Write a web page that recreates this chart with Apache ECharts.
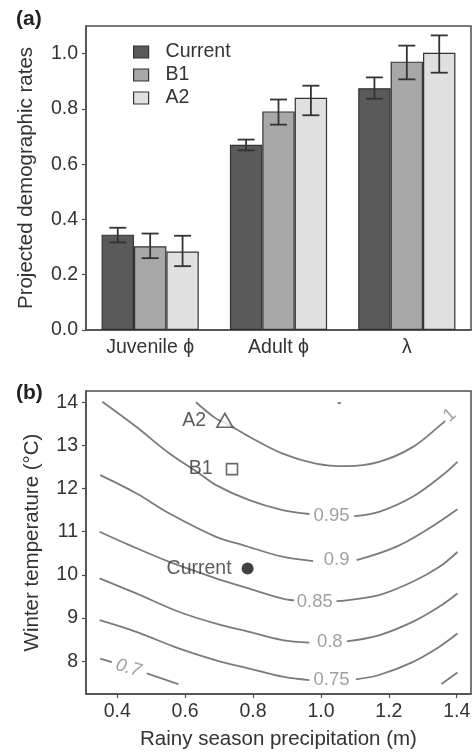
<!DOCTYPE html>
<html><head><meta charset="utf-8">
<script src="https://cdn.jsdelivr.net/npm/echarts@6/dist/echarts.min.js"></script>
<style>html,body{margin:0;padding:0;background:#fff}#c{width:474px;height:754px}</style>
</head><body><div id="c"></div>
<script>
// ---------- Panel (a): projected demographic rates ----------
const categories = ['Juvenile ϕ', 'Adult ϕ', 'λ'];
const scenarioNames = ['Current', 'B1', 'A2'];
const currentRates = [0.345, 0.670, 0.875];
const b1Rates      = [0.303, 0.791, 0.971];
const a2Rates      = [0.284, 0.840, 1.003];
const currentLow   = [0.317, 0.650, 0.837];
const currentHigh  = [0.370, 0.689, 0.914];
const b1Low        = [0.260, 0.743, 0.907];
const b1High       = [0.349, 0.834, 1.029];
const a2Low        = [0.231, 0.777, 0.931];
const a2High       = [0.341, 0.884, 1.066];
const rateTicks    = [0, 0.2, 0.4, 0.6, 0.8, 1.0];

// ---------- Panel (b): contours of lambda ----------
const precipTicks = [0.4, 0.6, 0.8, 1.0, 1.2, 1.4];
const tempTicks   = [8, 9, 10, 11, 12, 13, 14];
// null marks a break in the line (label gap)
const contour100 = [[0.632,14.00],[0.691,13.62],[0.721,13.51],[0.789,13.20],[0.887,12.81],[0.985,12.58],[1.074,12.52],[1.171,12.62],[1.270,12.96],[1.358,13.51],[1.366,13.57]];
const contour105 = [[1.049,13.98],[1.059,13.98]];
const contour095 = [[0.356,14.01],[0.456,13.43],[0.554,12.81],[0.642,12.35],[0.691,12.08],[0.789,11.73],[0.887,11.50],[0.966,11.41], null, [1.098,11.36],[1.171,11.46],[1.270,11.81],[1.358,12.31],[1.402,12.62]];
const contour090 = [[0.350,12.31],[0.456,11.89],[0.554,11.42],[0.691,10.88],[0.770,10.69],[0.887,10.42],[0.977,10.32], null, [1.105,10.34],[1.221,10.65],[1.319,11.08],[1.402,11.52]];
const contour085 = [[0.348,11.00],[0.436,10.69],[0.554,10.30],[0.691,9.92],[0.789,9.68],[0.887,9.45],[0.921,9.41], null, [1.046,9.39],[1.074,9.41],[1.171,9.53],[1.270,9.84],[1.348,10.18],[1.402,10.53]];
const contour080 = [[0.348,9.92],[0.456,9.57],[0.583,9.14],[0.691,8.87],[0.789,8.68],[0.887,8.49],[0.966,8.43], null, [1.076,8.46],[1.171,8.60],[1.270,8.91],[1.348,9.26],[1.402,9.57]];
const contour075 = [[0.348,8.95],[0.456,8.68],[0.583,8.29],[0.691,8.02],[0.789,7.83],[0.887,7.64],[0.966,7.56], null, [1.103,7.58],[1.171,7.68],[1.270,7.98],[1.348,8.33],[1.402,8.64]];
const contour070 = [[0.350,8.06],[0.384,7.98], null, [0.487,7.72],[0.580,7.47], null, [1.355,7.47],[1.402,7.74]];
const contourLabelTexts = ['1', '0.95', '0.9', '0.85', '0.8', '0.75', '0.7'];
const contourLabelX     = [1.380, 1.031, 1.046, 0.982, 1.026, 1.031, 0.433];
const contourLabelY     = [13.70, 11.36, 10.34, 9.37, 8.45, 7.56, 7.84];
const scenarioPrecip = [0.784, 0.738, 0.717];
const scenarioTemp   = [10.15, 12.45, 13.58];

// ---------- styles ----------
const FONT = "'Liberation Sans', Arial, 'DejaVu Sans', sans-serif";
const TXT = '#333';
const FRAME = '#4d4d4d';
const BAR_W = 32.4;
const barColors = ['#5a5a5a', '#a8a8a8', '#e0e0e0'];
const contourColor = '#7b7b7b';
const contourLabelStyle = {
  '1':   {rotate: 42, fontStyle: 'normal'},
  '0.7': {rotate: -16, fontStyle: 'italic'}
};

const rates = [currentRates, b1Rates, a2Rates];
const lows = [currentLow, b1Low, a2Low];
const highs = [currentHigh, b1High, a2High];

const series = [];
scenarioNames.forEach((nm, s) => {
  series.push({
    name: nm, type: 'bar', xAxisIndex: 0, yAxisIndex: 0,
    data: rates[s], barWidth: BAR_W, barGap: '0%',
    itemStyle: {color: barColors[s], borderColor: '#333', borderWidth: 1.2},
    z: 2
  });
});
scenarioNames.forEach((nm, s) => {
  series.push({
    name: 'err-' + nm, type: 'custom', xAxisIndex: 0, yAxisIndex: 0, z: 5,
    data: categories.map((c, i) => [i, lows[s][i], highs[s][i]]),
    renderItem: function (params, api) {
      const lo = api.coord([api.value(0), api.value(1)]);
      const hi = api.coord([api.value(0), api.value(2)]);
      const x = lo[0] + (s - 1) * BAR_W;
      const cap = 8.5;
      const st = {stroke: '#333', lineWidth: 1.8};
      return {type: 'group', children: [
        {type: 'line', shape: {x1: x, y1: lo[1], x2: x, y2: hi[1]}, style: st},
        {type: 'line', shape: {x1: x - cap, y1: lo[1], x2: x + cap, y2: lo[1]}, style: st},
        {type: 'line', shape: {x1: x - cap, y1: hi[1], x2: x + cap, y2: hi[1]}, style: st}
      ]};
    }
  });
});

function splitSegments(arr) {
  const segs = [[]];
  arr.forEach(p => { if (p === null) segs.push([]); else segs[segs.length - 1].push(p); });
  return segs.filter(s => s.length > 1);
}
[contour100, contour105, contour095, contour090, contour085, contour080, contour075, contour070].forEach(c => {
  splitSegments(c).forEach(seg => {
    series.push({
      type: 'line', xAxisIndex: 1, yAxisIndex: 1, data: seg,
      smooth: 0.35, symbol: 'none', silent: true, z: 2,
      lineStyle: {color: contourColor, width: 1.8}
    });
  });
});

series.push({
  type: 'scatter', xAxisIndex: 1, yAxisIndex: 1, symbolSize: 1, silent: true, z: 3,
  itemStyle: {color: 'rgba(0,0,0,0)'},
  data: contourLabelTexts.map((t, i) => {
    const st = contourLabelStyle[t] || {rotate: 0, fontStyle: 'normal'};
    return {name: t, value: [contourLabelX[i], contourLabelY[i]],
      label: {rotate: st.rotate, fontStyle: st.fontStyle}};
  }),
  label: {show: true, position: 'inside', formatter: p => p.name,
    color: '#888', fontSize: 18.5, fontFamily: FONT}
});

const markerSymbols = ['circle', 'rect', 'triangle'];
const markerSizes = [12, 11, [16, 14]];
const markerDist = [10, 13, 10];
scenarioNames.forEach((nm, s) => {
  series.push({
    type: 'scatter', xAxisIndex: 1, yAxisIndex: 1, z: 6, silent: true,
    symbol: markerSymbols[s], symbolSize: markerSizes[s],
    itemStyle: s === 0 ? {color: '#111'} : {color: '#fff', borderColor: '#444', borderWidth: 1.6},
    data: [{name: nm, value: [scenarioPrecip[s], scenarioTemp[s]]}],
    label: {show: true, position: 'left', distance: markerDist[s], formatter: p => p.name,
      color: TXT, fontSize: 19.5, fontFamily: FONT}
  });
});

const axisLabelBase = {color: TXT, fontSize: 19.5, fontFamily: FONT, margin: 8};
const tickBase = {show: true, inside: false, length: 4, lineStyle: {color: FRAME, width: 1.2}};

const option = {
  backgroundColor: '#fff',
  animation: false,
  textStyle: {fontFamily: FONT},
  title: [
    {text: '(a)', left: 16, top: 9, padding: 0, textStyle: {fontSize: 21, fontWeight: 'bold', color: '#222', fontFamily: FONT}},
    {text: '(b)', left: 16, top: 383, padding: 0, textStyle: {fontSize: 21, fontWeight: 'bold', color: '#222', fontFamily: FONT}}
  ],
  legend: {
    data: scenarioNames, orient: 'vertical', left: 133, top: 42, padding: 0,
    itemWidth: 15, itemHeight: 12, itemGap: 3, icon: 'rect',
    itemStyle: {borderColor: '#333', borderWidth: 1.2},
    textStyle: {color: TXT, fontSize: 19.5, fontFamily: FONT, padding: [0, 0, 0, 12]}
  },
  grid: [
    {left: 86, right: 3, top: 26, height: 304, show: true, borderColor: FRAME, borderWidth: 1.5, backgroundColor: 'transparent'},
    {left: 86, right: 3, top: 391, height: 303, show: true, borderColor: FRAME, borderWidth: 1.5, backgroundColor: 'transparent'}
  ],
  xAxis: [
    {type: 'category', gridIndex: 0, data: categories,
      axisLine: {show: true, lineStyle: {color: FRAME, width: 1.5}},
      axisTick: {show: false}, splitLine: {show: false},
      axisLabel: Object.assign({}, axisLabelBase, {interval: 0})},
    {type: 'value', gridIndex: 1, min: 0.308, max: 1.442,
      axisLine: {show: true, lineStyle: {color: FRAME, width: 1.5}},
      axisTick: Object.assign({}, tickBase, {customValues: precipTicks}),
      axisLabel: Object.assign({}, axisLabelBase, {customValues: precipTicks, formatter: v => v.toFixed(1)}),
      splitLine: {show: false},
      name: 'Rainy season precipitation (m)', nameLocation: 'middle', nameGap: 35,
      nameTextStyle: {color: TXT, fontSize: 20.5, fontFamily: FONT}}
  ],
  yAxis: [
    {type: 'value', gridIndex: 0, min: 0, max: 1.1,
      axisLine: {show: true, lineStyle: {color: FRAME, width: 1.5}},
      axisTick: Object.assign({}, tickBase, {customValues: rateTicks}),
      axisLabel: Object.assign({}, axisLabelBase, {customValues: rateTicks, formatter: v => v.toFixed(1)}),
      splitLine: {show: false},
      name: 'Projected demographic rates', nameLocation: 'middle', nameGap: 49,
      nameTextStyle: {color: TXT, fontSize: 20.5, fontFamily: FONT}},
    {type: 'value', gridIndex: 1, min: 7.24, max: 14.26,
      axisLine: {show: true, lineStyle: {color: FRAME, width: 1.5}},
      axisTick: Object.assign({}, tickBase, {customValues: tempTicks}),
      axisLabel: Object.assign({}, axisLabelBase, {customValues: tempTicks, formatter: v => String(v)}),
      splitLine: {show: false},
      name: 'Winter temperature (°C)', nameLocation: 'middle', nameGap: 43,
      nameTextStyle: {color: TXT, fontSize: 20.5, fontFamily: FONT}}
  ],
  series: series
};
const chart = echarts.init(document.getElementById('c'), null, {renderer: 'canvas'});
chart.setOption(option);
</script>
</body></html>
